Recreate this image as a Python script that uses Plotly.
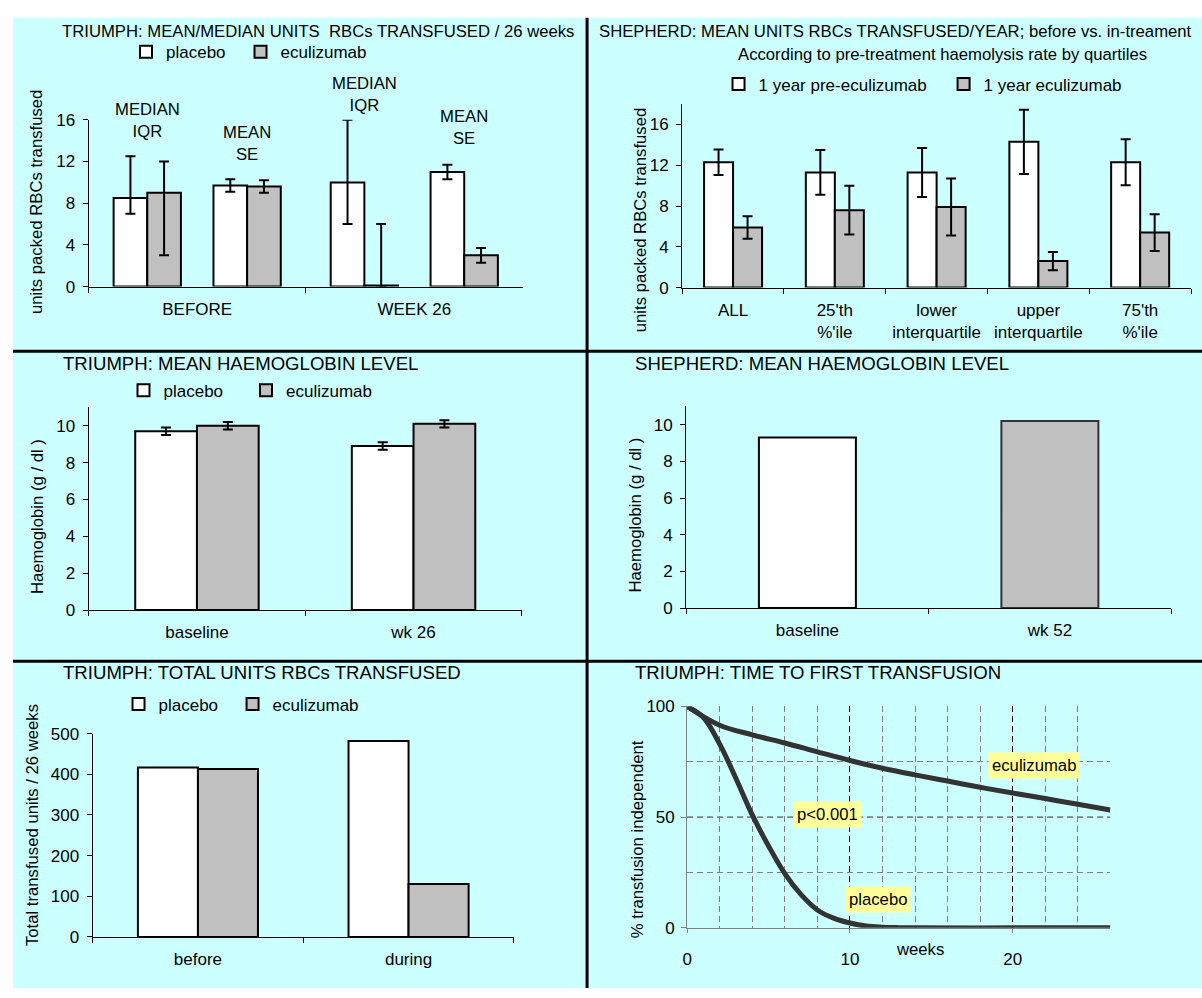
import plotly.graph_objects as go

W, H = 1202, 998
FONT = "Liberation Sans, Arial, sans-serif"
CYAN = "#CCFFFF"
WHITE = "#FFFFFF"
GREY = "#C0C0C0"
INK = "#000000"

# ---- TRIUMPH: units transfused per 26 weeks (median/IQR and mean/SE) ----
t1_periods = ["BEFORE", "WEEK 26"]
t1_plac_median = [8.5, 10.0]
t1_plac_iqr_lo = [7.0, 6.0]
t1_plac_iqr_hi = [12.5, 16.0]
t1_ecu_median = [9.0, 0.1]
t1_ecu_iqr_lo = [3.0, 0.0]
t1_ecu_iqr_hi = [12.0, 6.0]
t1_plac_mean = [9.7, 11.0]
t1_plac_se = [0.6, 0.7]
t1_ecu_mean = [9.6, 3.0]
t1_ecu_se = [0.6, 0.7]

# ---- SHEPHERD: mean units per year by haemolysis quartile ----
sh_groups = ["ALL", "25'th<br>%'ile", "lower<br>interquartile",
             "upper<br>interquartile", "75'th<br>%'ile"]
sh_pre = [12.3, 11.3, 11.3, 14.3, 12.3]
sh_pre_err = [1.25, 2.2, 2.4, 3.15, 2.25]
sh_ecu = [5.9, 7.6, 7.9, 2.6, 5.4]
sh_ecu_err = [1.1, 2.4, 2.8, 0.9, 1.8]

# ---- TRIUMPH: mean haemoglobin ----
hb_t_times = ["baseline", "wk 26"]
hb_t_plac = [9.7, 8.9]
hb_t_plac_err = [0.2, 0.2]
hb_t_ecu = [10.0, 10.1]
hb_t_ecu_err = [0.2, 0.2]

# ---- SHEPHERD: mean haemoglobin ----
hb_s_times = ["baseline", "wk 52"]
hb_s_vals = [9.3, 10.2]

# ---- TRIUMPH: total units transfused ----
tot_periods = ["before", "during"]
tot_plac = [417, 482]
tot_ecu = [413, 130]

# ---- TRIUMPH: time to first transfusion ----
ecu_weeks = [0, 2, 4, 6, 8, 10, 12, 14, 16, 18, 20, 22, 24, 26]
ecu_pct = [100, 91.5, 87.2, 83.5, 79.5, 75.6, 72.1, 69.1, 66.3, 63.5, 60.9, 58.4, 55.8, 53.2]
plac_weeks = [0, 1, 2, 3, 4, 5, 6, 7, 8, 9, 10, 11, 12, 13, 14, 20, 26]
plac_pct = [100, 95, 83, 67.5, 51, 37, 24.5, 15, 8.1, 4.4, 2.2, 0.8, 0.3, 0.1, 0, 0, 0]


def px(x):
    return x / W


def py(y):
    return 1 - y / H


fig = go.Figure()

bar_line = dict(color=INK, width=2)
err_style = dict(color=INK, thickness=2, width=5)

# ---------- panel 1 ----------
BW1 = 0.155
p1_specs = [
    ("placebo", t1_plac_median, WHITE, -0.385, "legend",
     [h - m for h, m in zip(t1_plac_iqr_hi, t1_plac_median)],
     [m - l for m, l in zip(t1_plac_median, t1_plac_iqr_lo)]),
    ("eculizumab", t1_ecu_median, GREY, -0.23, "legend2",
     [h - m for h, m in zip(t1_ecu_iqr_hi, t1_ecu_median)],
     [m - l for m, l in zip(t1_ecu_median, t1_ecu_iqr_lo)]),
    ("placebo", t1_plac_mean, WHITE, 0.075, None, t1_plac_se, t1_plac_se),
    ("eculizumab", t1_ecu_mean, GREY, 0.23, None, t1_ecu_se, t1_ecu_se),
]
for name, vals, col, off, leg, eplus, eminus in p1_specs:
    fig.add_trace(go.Bar(
        x=t1_periods, y=vals, name=name, showlegend=leg is not None, legend=leg or "legend",
        offset=off, width=BW1, marker=dict(color=col, line=bar_line),
        error_y=dict(type="data", symmetric=False, array=eplus, arrayminus=eminus, **err_style),
        cliponaxis=False, xaxis="x", yaxis="y"))

# ---------- panel 2 ----------
fig.add_trace(go.Bar(x=sh_groups, y=sh_pre, name="1 year pre-eculizumab", legend="legend3",
                     marker=dict(color=WHITE, line=bar_line), cliponaxis=False,
                     error_y=dict(type="data", array=sh_pre_err, **err_style),
                     xaxis="x2", yaxis="y2"))
fig.add_trace(go.Bar(x=sh_groups, y=sh_ecu, name="1 year eculizumab", legend="legend4",
                     marker=dict(color=GREY, line=bar_line), cliponaxis=False,
                     error_y=dict(type="data", array=sh_ecu_err, **err_style),
                     xaxis="x2", yaxis="y2"))

# ---------- panel 3 ----------
fig.add_trace(go.Bar(x=hb_t_times, y=hb_t_plac, name="placebo", legend="legend5",
                     marker=dict(color=WHITE, line=bar_line), cliponaxis=False,
                     error_y=dict(type="data", array=hb_t_plac_err, **err_style),
                     xaxis="x3", yaxis="y3"))
fig.add_trace(go.Bar(x=hb_t_times, y=hb_t_ecu, name="eculizumab", legend="legend6",
                     marker=dict(color=GREY, line=bar_line), cliponaxis=False,
                     error_y=dict(type="data", array=hb_t_ecu_err, **err_style),
                     xaxis="x3", yaxis="y3"))

# ---------- panel 4 ----------
fig.add_trace(go.Bar(x=hb_s_times, y=hb_s_vals, width=0.4, showlegend=False,
                     marker=dict(color=[WHITE, GREY], line=dict(color=["#000000", "#333333"], width=2)),
                     xaxis="x4", yaxis="y4"))

# ---------- panel 5 ----------
fig.add_trace(go.Bar(x=tot_periods, y=tot_plac, name="placebo", legend="legend7",
                     marker=dict(color=WHITE, line=bar_line), xaxis="x5", yaxis="y5"))
fig.add_trace(go.Bar(x=tot_periods, y=tot_ecu, name="eculizumab", legend="legend8",
                     marker=dict(color=GREY, line=bar_line), xaxis="x5", yaxis="y5"))

# ---------- panel 6 ----------
curve = dict(color="#333333", width=5, shape="spline", smoothing=1)
fig.add_trace(go.Scatter(x=ecu_weeks, y=ecu_pct, mode="lines", line=curve, showlegend=False,
                         cliponaxis=False, xaxis="x6", yaxis="y6"))
fig.add_trace(go.Scatter(x=plac_weeks, y=plac_pct, mode="lines", line=curve, showlegend=False,
                         cliponaxis=False, xaxis="x6", yaxis="y6"))

tick_font = dict(family=FONT, size=17, color=INK)


def cat_xaxis(x0, x1, anchor, n):
    return dict(domain=[px(x0), px(x1)], anchor=anchor, type="category",
                range=[-0.5, n - 0.5], showline=True, linecolor=INK, linewidth=1,
                ticks="outside", tickson="boundaries", ticklen=5, tickcolor=INK,
                showgrid=False, zeroline=False, tickfont=tick_font,
                ticklabelstandoff=7, fixedrange=True)


def val_yaxis(y_top, y_bot, anchor, rng, vals):
    return dict(domain=[py(y_bot), py(y_top)], anchor=anchor, range=rng, tickvals=vals,
                showline=True, linecolor=INK, linewidth=1, ticks="outside", ticklen=5,
                tickcolor=INK, showgrid=False, zeroline=False, tickfont=tick_font,
                ticklabelstandoff=4, fixedrange=True)


layout = dict(
    width=W, height=H, autosize=False,
    margin=dict(l=0, r=0, t=0, b=0, pad=0),
    paper_bgcolor="white", plot_bgcolor="rgba(0,0,0,0)",
    font=dict(family=FONT, size=17, color=INK),
    barmode="group", bargap=0.43, bargroupgap=0,
    xaxis=cat_xaxis(84, 520, "y", 2),
    yaxis=val_yaxis(113, 283, "x", [0, 16], [0, 4, 8, 12, 16]),
    xaxis2=cat_xaxis(680, 1191, "y2", 5),
    yaxis2=val_yaxis(97, 284, "x2", [0, 18], [0, 4, 8, 12, 16]),
    xaxis3=cat_xaxis(84, 519, "y3", 2),
    yaxis3=val_yaxis(406, 612.7, "x3", [0, 11], [0, 2, 4, 6, 8, 10]),
    xaxis4=cat_xaxis(684, 1171, "y4", 2),
    yaxis4=val_yaxis(405, 610.7, "x4", [0, 11], [0, 2, 4, 6, 8, 10]),
    xaxis5=cat_xaxis(88, 511, "y5", 2),
    yaxis5=val_yaxis(738.7, 946, "x5", [0, 500], [0, 100, 200, 300, 400, 500]),
    xaxis6=dict(domain=[px(685), px(1110)], anchor="y6", range=[0, 26], tickvals=[0, 10, 20],
                showline=True, linecolor="#808080", linewidth=1, ticks="outside", ticklen=4,
                tickcolor="#808080", showgrid=True, gridcolor="#000000", griddash="6px,4px",
                gridwidth=1, zeroline=False, tickfont=tick_font, ticklabelstandoff=12,
                minor=dict(dtick=2, tick0=0, showgrid=True, gridcolor="#808080",
                           griddash="6px,4px", gridwidth=1),
                fixedrange=True),
    yaxis6=dict(domain=[py(936.7), py(711)], anchor="x6", range=[0, 100], tickvals=[0, 50, 100],
                showline=True, linecolor="#808080", linewidth=1, ticks="outside", ticklen=5,
                tickcolor="#808080", showgrid=True, gridcolor="#808080", griddash="6px,4px",
                zeroline=False, tickfont=tick_font, ticklabelstandoff=3,
                minor=dict(dtick=25, tick0=0, showgrid=True, gridcolor="#808080",
                           griddash="6px,4px", gridwidth=1),
                fixedrange=True),
)

# one legend per entry so each key sits exactly where it belongs
legend_common = dict(orientation="h", xanchor="left", yanchor="middle", bgcolor="rgba(0,0,0,0)",
                     borderwidth=0, font=dict(family=FONT, size=17, color=INK),
                     itemwidth=30, itemclick=False, itemdoubleclick=False)
legend_pos = {
    "legend": (121.5, 44), "legend2": (236.5, 44),
    "legend3": (716.5, 77), "legend4": (942.5, 77),
    "legend5": (119, 389), "legend6": (242, 389),
    "legend7": (114, 709), "legend8": (228.5, 709),
}
for key, (lx, ly) in legend_pos.items():
    layout[key] = dict(x=px(lx), y=py(ly), **legend_common)

fig.update_layout(**layout)

# panel background, dividers
shapes = [
    dict(type="rect", xref="paper", yref="paper", x0=px(8), x1=px(1202), y0=py(998), y1=py(9),
         fillcolor=CYAN, line=dict(width=0), layer="below"),
    dict(type="line", xref="paper", yref="paper", x0=px(584.5), x1=px(584.5), y0=py(998), y1=py(9),
         line=dict(color=INK, width=3)),
    dict(type="line", xref="paper", yref="paper", x0=px(8), x1=px(1202), y0=py(349), y1=py(349),
         line=dict(color=INK, width=3)),
    dict(type="line", xref="paper", yref="paper", x0=px(8), x1=px(1202), y0=py(665), y1=py(665),
         line=dict(color=INK, width=3)),
    # darker reference line at 50 %
    dict(type="line", xref="x6", yref="y6", x0=0, x1=26, y0=50, y1=50,
         line=dict(color=INK, width=1, dash="6px,4px"), layer="below"),
]
fig.update_layout(shapes=shapes)

ann = []


def text(x, y, s, size=17, xanchor="left", **kw):
    ann.append(dict(x=px(x), y=py(y), xref="paper", yref="paper", text=s, showarrow=False,
                    xanchor=xanchor, yanchor="middle", font=dict(family=FONT, size=size, color=INK), **kw))


def vtitle(x, y, s, size=16.7):
    ann.append(dict(x=px(x), y=py(y), xref="paper", yref="paper", text=s, showarrow=False,
                    textangle=-90, xanchor="center", yanchor="middle",
                    font=dict(family=FONT, size=size, color=INK)))


# panel titles
text(55, 23, "TRIUMPH: MEAN/MEDIAN UNITS&nbsp; RBCs TRANSFUSED / 26 weeks", size=16.7)
text(594, 23, "SHEPHERD: MEAN UNITS RBCs TRANSFUSED/YEAR; before vs. in-treament", size=16.7)
text(941, 46, "According to pre-treatment haemolysis rate by quartiles", size=16.7, xanchor="center")
text(56, 361, "TRIUMPH: MEAN HAEMOGLOBIN LEVEL", size=18.6)
text(631, 361, "SHEPHERD: MEAN HAEMOGLOBIN LEVEL", size=18.6)
text(56, 676, "TRIUMPH: TOTAL UNITS RBCs TRANSFUSED", size=18.6)
text(631, 676, "TRIUMPH: TIME TO FIRST TRANSFUSION", size=18.6)

# y-axis titles
vtitle(31, 197, "units packed RBCs transfused")
vtitle(639, 215, "units packed RBCs transfused")
vtitle(32, 517, "Haemoglobin (g / dl )")
vtitle(633, 516, "Haemoglobin (g / dl )")
vtitle(27, 832, "Total transfused units / 26 weeks")
vtitle(636, 846, "% transfusion independent")

# statistic labels over the bar pairs (x in panel-1 category units, y in page position)
for xv, yv, s in [(-0.23, 113.5, "MEDIAN<br>IQR"), (0.23, 137, "MEAN<br>SE"),
                  (0.77, 87.5, "MEDIAN<br>IQR"), (1.23, 120.5, "MEAN<br>SE")]:
    ann.append(dict(x=xv, y=py(yv), xref="x", yref="paper", text=s, showarrow=False,
                    xanchor="center", yanchor="middle", font=dict(family=FONT, size=16.7, color=INK)))

# panel 6 labels
ann.append(dict(x=14.3, y=0, xref="x6", yref="y6", text="weeks", showarrow=False, yshift=-22,
                xanchor="center", yanchor="middle", font=dict(family=FONT, size=16.7, color=INK)))
for xv, yv, s in [(21.3, 73.4, "eculizumab"), (8.6, 51.3, "p<0.001"), (11.75, 12.9, "placebo")]:
    ann.append(dict(x=xv, y=yv, xref="x6", yref="y6", text=s, showarrow=False,
                    xanchor="center", yanchor="middle", bgcolor="#FFFF99", borderpad=3,
                    font=dict(family=FONT, size=16.7, color=INK)))

fig.update_layout(annotations=ann)

fig.write_html("out.html", include_plotlyjs=True, config={"displayModeBar": False})
